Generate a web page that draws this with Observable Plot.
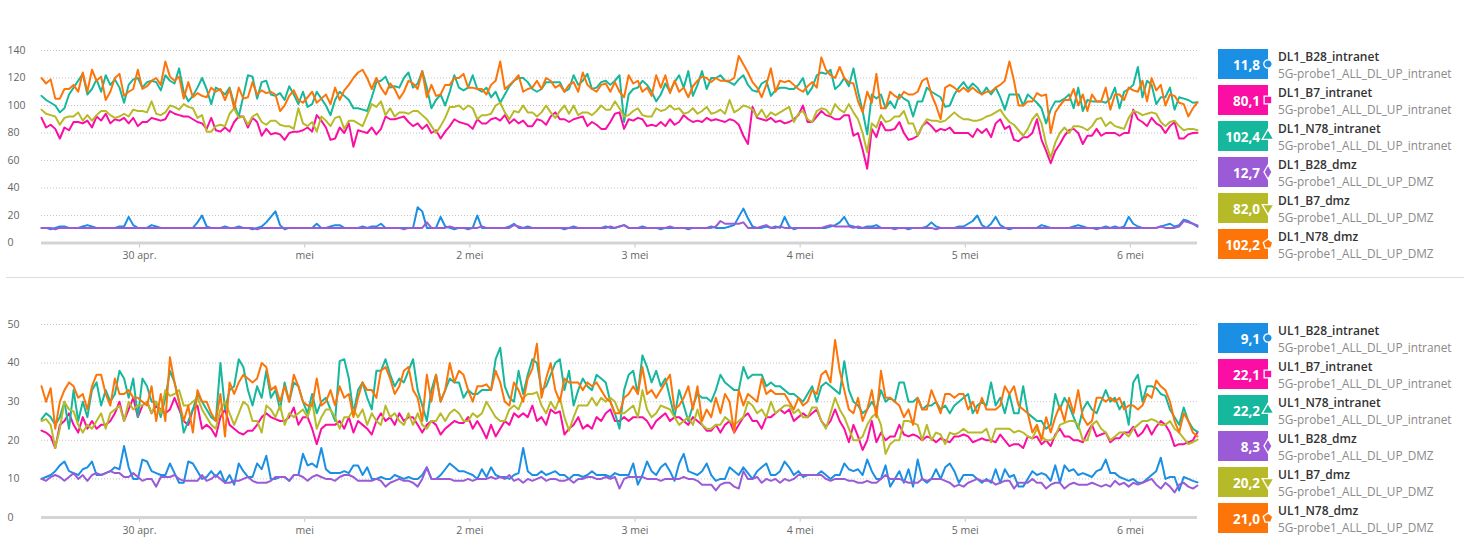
<!DOCTYPE html>
<html>
<head>
<meta charset="utf-8">
<script src="https://cdn.jsdelivr.net/npm/d3@7"></script>
<script src="https://cdn.jsdelivr.net/npm/@observablehq/plot@0.6"></script>
<style>
  html, body { margin: 0; padding: 0; background: #fff; }
  #page { position: relative; width: 1470px; height: 551px; overflow: hidden; font-family: "Open Sans", sans-serif; }
  .panel { position: absolute; left: 0; }
  #sep { position: absolute; left: 6px; top: 277px; width: 1458px; height: 1px; background: #dcdcdc; }
  #legend { position: absolute; left: 0; top: 0; pointer-events: none; }
</style>
</head>
<body>
<div id="page">
  <div id="dl" class="panel" style="top:0px"></div>
  <div id="sep"></div>
  <div id="ul" class="panel" style="top:274px"></div>
  <svg id="legend" width="1470" height="551"></svg>
</div>
<script>
// Samples every 40 minutes, 29 apr 09:45 .. 6 mei 09:45 (253 points per series)
const startTime = Date.UTC(2024, 3, 29, 9, 45);
const stepMs = 40 * 60 * 1000;
const stepCount = 252;

// Day ticks and their Dutch labels
const dayTicks = [30, 31, 32, 33, 34, 35, 36].map(d => new Date(Date.UTC(2024, 3, d)));
const dayLabels = ["30 apr.", "mei", "2 mei", "3 mei", "4 mei", "5 mei", "6 mei"];

// Y ticks for both panels
const dlTicks = [0, 20, 40, 60, 80, 100, 120, 140];
const ulTicks = [0, 10, 20, 30, 40, 50];

// Series names, groups and colours (same order in both panels)
const dlNames = ["DL1_B28_intranet", "DL1_B7_intranet", "DL1_N78_intranet", "DL1_B28_dmz", "DL1_B7_dmz", "DL1_N78_dmz"];
const ulNames = ["UL1_B28_intranet", "UL1_B7_intranet", "UL1_N78_intranet", "UL1_B28_dmz", "UL1_B7_dmz", "UL1_N78_dmz"];
const groupNames = ["5G-probe1_ALL_DL_UP_intranet", "5G-probe1_ALL_DL_UP_intranet", "5G-probe1_ALL_DL_UP_intranet",
                    "5G-probe1_ALL_DL_UP_DMZ", "5G-probe1_ALL_DL_UP_DMZ", "5G-probe1_ALL_DL_UP_DMZ"];
const seriesColors = ["#1a8fe3", "#fb0ea3", "#15b89c", "#9b5bd6", "#b7ba28", "#fd7509"];

// ---- Downlink (Mbit/s) ----
const dlB28Intranet = [
11,11,10,11,12,12,11,11,11,12,13,12,11,11,11,11,11,12,12,19,13,11,11,11,13,12,11,11,11,11,11,11,11,11,15,20,12,11,11,11,12,11,11,12,11,11,10,11,12,15,19,23,13,10,11,11,11,11,11,11,14,11,11,12,13,13,11,11,11,11,12,11,12,12,14,11,11,11,11,11,11,
11,26,23,11,11,11,19,12,11,10,11,11,10,11,20,11,11,11,11,11,11,12,14,11,11,12,11,11,11,11,11,11,11,10,11,12,11,11,11,11,11,11,12,11,11,12,13,11,11,11,12,11,11,11,10,11,11,11,11,11,10,11,11,11,11,12,11,11,11,12,13,19,25,18,12,11,11,12,11,12,11,19,12,10,11,11,11,
11,11,11,11,12,13,15,19,13,12,11,11,12,12,13,11,11,11,11,11,11,10,11,11,11,12,15,12,11,11,11,11,12,12,14,16,20,13,11,14,19,13,11,10,11,11,11,11,11,11,13,12,11,11,11,11,11,12,13,12,11,11,11,11,12,11,12,11,12,19,14,12,11,11,11,11,12,13,14,12,13,17,16,14,11.8];
const dlB7Intranet = [
91,84,86,83,76,84,82,88,88,87,89,84,92,89,94,87,90,89,91,87,91,85,88,88,91,90,89,90,96,94,93,92,92,90,88,87,83,91,82,81,84,81,88,92,92,84,91,88,78,83,79,80,79,75,80,81,81,82,84,81,93,89,84,75,76,84,80,87,70,82,81,80,84,79,83,92,90,90,91,92,88,
85,87,83,86,80,82,76,81,85,90,88,87,86,83,90,87,87,90,91,89,93,87,90,87,89,85,85,90,89,86,92,95,90,90,88,90,91,92,85,88,86,83,83,88,94,95,83,90,89,91,90,85,86,85,88,85,90,86,88,93,90,88,89,88,91,89,90,89,88,90,89,86,78,72,99,91,90,89,91,88,89,87,88,90,93,100,88,
88,92,96,93,92,90,90,93,93,78,80,68,54,83,77,88,82,82,83,88,80,75,76,78,85,88,85,81,83,82,84,80,80,80,80,77,83,80,83,77,87,90,83,85,75,74,77,77,80,90,75,67,58,67,72,78,82,83,80,72,78,78,83,78,80,80,80,78,80,80,97,90,88,85,91,87,85,80,85,88,76,76,79,80,80.1];
const dlN78Intranet = [
107,104,102,100,95,98,108,113,118,123,108,112,119,110,122,115,119,113,102,115,119,120,113,117,118,117,111,122,118,116,127,110,103,107,113,120,112,101,113,111,108,113,101,92,107,122,121,105,117,118,108,107,109,104,114,108,101,110,99,101,110,105,100,93,104,110,107,104,98,98,97,96,106,117,118,121,113,114,113,120,124,
113,116,125,113,98,104,108,100,110,122,113,111,113,122,112,110,113,106,110,102,108,114,118,120,120,117,112,110,112,117,117,117,117,110,112,122,115,118,123,112,113,117,118,115,118,122,88,108,112,113,118,115,110,103,108,116,110,117,122,113,125,107,115,125,112,120,120,122,118,117,115,119,122,115,111,110,116,118,107,111,113,113,112,112,115,120,108,
113,122,124,123,126,112,115,120,114,127,110,96,79,108,105,108,98,103,98,108,105,103,92,103,103,113,110,108,106,99,100,108,113,117,112,116,113,108,113,108,113,106,97,108,108,108,100,108,105,102,98,87,97,103,103,105,108,98,113,96,104,103,103,103,102,105,113,98,110,112,115,128,106,118,115,101,106,106,113,97,106,105,104,102,102.4];
const dlB28Dmz = [
11,11,11,10,11,11,11,11,11,11,11,11,11,11,11,11,11,11,11,11,11,11,11,11,11,11,11,11,11,11,11,11,11,11,11,11,11,11,11,11,11,11,11,11,11,11,11,10,11,11,11,11,11,11,11,11,11,11,11,11,11,11,11,11,11,11,11,11,11,11,11,11,11,11,11,11,11,11,11,10,11,
11,11,11,15,11,11,11,11,12,11,11,11,11,11,11,12,11,11,11,11,11,11,13,12,11,11,11,11,11,11,11,11,11,11,11,11,11,11,11,11,11,11,11,12,11,12,13,11,11,11,11,11,11,11,11,11,12,11,11,11,11,11,11,11,11,11,12,16,14,14,14,14,15,11,11,11,12,13,11,11,12,11,11,11,11,11,11,
11,11,11,12,13,12,12,12,12,11,12,11,11,11,11,11,11,11,10,11,11,11,11,11,11,11,11,10,11,11,11,11,11,11,11,11,11,11,11,11,11,11,11,11,11,11,11,11,11,11,11,11,11,11,11,11,11,11,11,11,11,11,10,11,11,11,11,11,11,11,11,11,11,11,11,11,12,11,11,11,12,16,15,14,12.7];
const dlB7Dmz = [
97,94,93,92,86,91,92,92,95,89,93,89,93,96,96,93,91,92,94,92,97,96,96,95,103,94,93,95,100,99,97,101,99,98,91,93,81,81,85,86,85,94,98,91,92,86,92,94,88,86,89,89,86,85,85,83,98,87,85,88,81,92,89,85,91,92,83,89,89,87,85,93,101,99,103,93,98,92,95,95,94,
96,96,93,90,85,80,85,91,99,99,100,97,100,98,90,93,93,94,100,102,95,90,96,95,100,95,95,92,95,100,95,91,96,100,94,100,93,95,95,93,96,100,97,97,103,98,92,93,96,98,93,92,92,98,96,97,100,97,98,94,95,98,94,96,99,94,95,97,94,104,95,97,100,99,97,92,97,91,95,93,95,97,99,88,94,96,90,
88,96,98,97,93,101,97,95,101,95,90,80,66,87,84,93,88,89,92,92,96,87,87,78,85,90,89,89,88,89,92,95,92,90,90,89,89,90,92,93,95,97,92,88,86,82,78,83,90,94,87,72,62,73,80,84,80,85,85,84,82,85,90,91,85,88,85,84,83,91,96,95,93,94,95,94,88,85,88,89,85,82,83,83,82.0];
const dlN78Dmz = [
120,116,119,105,105,112,112,115,110,124,110,126,118,121,104,110,120,123,107,110,112,126,112,114,118,120,115,132,121,118,121,105,117,106,109,107,106,113,110,112,104,112,98,113,105,106,117,108,111,109,110,108,96,100,107,111,104,102,106,110,102,105,108,101,113,104,111,115,120,124,126,120,112,120,113,108,116,112,105,110,118,
116,112,125,106,115,107,108,115,115,120,120,123,113,113,112,112,108,115,118,132,112,115,118,122,110,112,113,118,112,120,118,113,115,110,115,117,110,124,115,112,110,115,116,110,117,110,106,122,116,118,110,113,107,122,113,122,109,118,110,113,106,114,118,121,120,117,120,118,118,118,120,136,130,124,117,113,106,115,127,110,118,117,118,115,112,110,114,
117,113,135,126,122,120,128,120,117,116,103,95,110,102,123,98,98,110,107,105,110,108,108,110,118,120,108,100,90,113,115,113,110,113,110,113,110,108,110,110,113,115,118,132,118,100,100,103,103,109,107,108,80,95,100,104,104,112,100,108,96,108,103,103,113,97,108,108,104,113,111,110,118,103,120,111,115,100,108,107,102,101,92,98,102.2];

// ---- Uplink (Mbit/s) ----
const ulB28Intranet = [
10,10.5,11,12,13.5,14.5,12,11.5,11,12.5,13,14.5,11,11,11.5,12,13,12.5,18.5,13,10,10,15,14.5,12,11.5,11,11,14,11.5,9,9,14.5,14,12,10,10.5,12,10.5,12,9,11,8.5,14,12,10.5,10.5,14,12.5,16,10,10,10.5,10.5,9.5,11,11,16.5,13.5,14,13,18,12.5,11.5,11.5,11.5,12,11.5,13.5,13.5,11,13,10,10,10.5,10,10,11,10.5,10,10.5,
10,10,11,13,10,10,11,12.5,14,13,12,12,11.5,11,10,12.5,10.5,13,11,10.5,10.5,10,11,11.5,18,12,11,11,12,11,11.5,12,11,11,10,11,11,10.5,11,12,11,11,11,10.5,11.5,11,11,11,14,8.5,11,14.5,12,11,13,14,12,9.5,14,16.5,12,11.5,11,12,14,11,9.5,10,10,13,12,11,13,11.5,10,12,13,14,11,11,12,14.5,13,11,12,10.5,11,
11,11,12,11,10,11,11,14,12.5,12,12.5,11,15,12,10,10,13.5,8,10,12,9,12.5,8,15,10,9,10,12.5,10,13,14,12,9,11,11,11,10,9,10,9,12.5,9,12.5,10.5,11,8,8,10,12,11,11.5,11,9.5,13.5,9,13.5,12,12.5,11,11.5,11,10.5,12,12.5,15,11.5,11.5,10.5,10,9.5,10,9,9,10,11,12,15.5,10,10.5,10.5,7,10.5,10,9.5,9.1];
const ulB7Intranet = [
22.5,22,21,18,24,25,27,24,22,26,23,25,23,24,24,25,27,30,25,28,31,26,29,30,27,29,28,27,28,31,28,25,24,28,29,23,24,23,21,26,28,24,23,22,21.5,22.5,22.5,24,26,27,26,25.5,25,25,26,28.5,24,26,26,23,19,23,24,24,24,25,23,26,22,25,24,23,21.5,25,27,25,26,24,27,25,26,
26,24,22,24,25,24,21.5,23,24,25,24.5,24.5,26,23,25,23,20.5,24,21,23,25,24,27,26,27,26,29,25,26,24,28,27,27.5,21.5,23,24,26,23,24,23,26,25,27,28,25,25,26,25,26,26,26,25,23,25,26,27,25,26,26,25,24,26,25,24,22.5,22.5,24,22,24,25,22,24,26,27,25,25,23,26,26,27,28,27,28,25,26,27,26,
27,28,25,23.5,25,28,25,23,19.5,24,21,17.5,20,25,19.5,22,20,21,21,24,21.5,21,21.5,21,20,21,20.5,19.5,20.5,20,19.5,21,21,21.5,21,19.5,20,20.5,20,20,19.5,21.5,20,18.5,19,19,18,21,20.5,21,19,20,18.5,21.5,23,21,21,20,20,19.5,22,24,21,21.5,22,19.5,20.5,20.5,22,22,23.5,21,22,24,21.5,23.5,25,24,22,18.5,19,19,19.5,20,22.1];
const ulN78Intranet = [
25.5,27,26,24,26,30,23,33,25,30,26,33,35,29,33,30,32,38,36,31,36,26,36,34,30,30,26,31,38,35,30,22,25,28,32,30,28,26,25,40,28,33,34,41,39,33,29,34,31,38,31,33,28,35,30,35,34,30,27,32,27,30,31,28,25,40.5,41,36,27,33,35,31,28,38,38,41,37,34,36,35,38,
41,33,29,25,33,37,30,33,36,35,35,31,33,32,32,33,33,33,41,44,34,31,30,38,32,37,41,40,33,34,37,40,41,33,38,29,33,36,34,33,37,36,35,30,27,23,33,37,38,32,42,39,35,38,34,36,31,26,33,29,25,29,32,31,31,30,33,37,35,34,33,33,39,36,37,37,37,34,35,34,34,33,32,32,31,30,32,
34,30,34,35,34,33,32,40.5,33,30,29,27,28,30,28,33,30,31,30,35,35,30,30,31,28,29,29,30,28,29,27,29,30,31,32,27,29,30,29,35,29,31,27,32,27,27,34,27,26,25,25,23,24,32,28,31,29,26,23,28,30,28,27,30,33,30,31,28,30,24,35,37,30,34,34,33.5,32,31.5,28,26,24,28.5,25,23,22.2];
const ulB28Dmz = [
10,9.5,10.5,11,10.5,9.5,10.5,11.5,10,11,9.5,11,11.5,11,11.5,12,11.5,11.5,10.5,10.5,11.5,10.5,9.5,10,10,8,10.5,10.5,10.5,11,10,9.5,9.5,9.5,9.5,11,9.5,10,11,10,9,9,9.5,9.5,10,10.5,9.5,9,9,9,9.5,10.5,10.5,10.5,9.5,11,11,10.5,9.5,10.5,11,10.5,10,10,9.5,10.5,11,11,10.5,9.5,9.5,9.5,9.5,10,9.5,8,9,9.5,10,9.5,9.5,
9,8,10,13,10,10,10,10,10,9.5,9.5,9.5,10,9.5,10,10,10,10.5,10,10.5,10,11,9.5,10,9,10,9.5,10,10.5,9.5,10,10,9.5,9.5,10,9,10,10,10.5,10.5,10,10,10.5,10,10.5,7.5,10,10.5,10.5,10.5,10.5,10,10,10,9.5,10,10,10,10,10.5,10,10,9.5,8.5,8.5,8.5,7,8.5,9,9,8,7.5,12,10,10,10.5,9,10,9.5,10,9,10,9.5,10,11,11,11,
11,11,11,10,9.5,10,10,10,9.5,9.5,9,9,9.5,9,9,10,11,10,10,10,9.5,9,9,9,10,9.5,10,10,10,9.5,9,8,8.5,8,9,9.5,10,9.5,9.5,9.5,8.5,9,9.5,9.5,7.5,9,9,9,10,9,9,7.5,8.5,9,9,7.5,8.5,9,8.5,8.5,8.5,9,8.5,8,8.5,8,9.5,8.5,9,8,9,8.5,9,9.5,10,8.5,7.5,9,8,6.5,8.5,9,8,7.5,8.3];
const ulB7Dmz = [
25,25.5,24,18,23,30,28,27.5,24,22,24,23,25,27,23,27,28,29,25,30,28,29,29,30,27,30,27,33,31.5,32,33,29,29,30,31,28,26,24,23,28,30,27,24,27,30,29,25,25,22,29,28,26,29,24,27,26,27,28,26,30,23,26,28,28,26,23,26,26,28,26,28,24,27,25,24,29,26,27,25,24,27,
24,27,24,23,25,25,27,25,27,28,27,25,25,27,26,27,30,28,26,25,25,28,29,28,31,32,32,32.5,29,27,30,28,31,26,22.5,26,29,29,29,31,29,31,30,31,30,27,27,28,29,26,33,28,26,27,29,28.5,28,26,24,25,26,24,28,24,23,23,24,24,26,25,24,25,26,30,29,27,28,26,30,27,28,29,29,27,28,26,26,
28.5,28.5,25,23,27,31,28,26,23,20,20,21,24,26,27,24,16.5,19,20,20,25,25,24.5,24,20,24,20,22,21.5,19,22,21.5,22,23,22,22,22,22,23,19.5,23,23,23,23,22,22.5,22,21,20.5,23,21,20,20,21,24,24.5,25,25,24,20,20,24,25,23,22,20,21,22,22,21,23,24,25,25,25.5,25,24,24,25,23,22,20.5,19,19.5,20.2];
const ulN78Dmz = [
34,30,33.5,23,30,33,35,34,31,32,28,34,37,37,32,29,36,32,32,33,31,31,30,29,34,25,32,25,41.5,35,30,25,29,22,33,30,30,27,25,32,21,35,32,35,37,36,35,36,40,39,33,34,30,34,30,37,34,30,29,29,36,29,30,33,29,34,31,32,26,31,35,33,33,31,38,39,36,32,34,38,39,
33,31,25,37,30,37,30,33,40,35,38,37,33,30,34,34,34.5,33,38,35,30,29,35,33,30,36,38.5,45,31,36,40,33,30,36,35,35,35,33,35,34,35,33,31,30,27,27,31,32,34,32,39,32,33,31,33,35,37,28,29,31,34,28,34,25,28,26,31,27,32,30,22,33,29,32,31,30,36,32,33,32,32,32,30,28,31,29,30,
33,32,37,38,35,46,38,33,28,27,31,25,28,33,26,38,31,31,30,29,26,28,24,31,28,28,33,30,27,32,32,31,32,32,28,30,27,31,28,28,28,29,34,32,34,29,28,27,22,24,20,26,22,26,29,25,31,27,33,26,24,25,31,31,30,31,30,31,28,29,29,28,29,32,31,35.5,34,33,30,25,22,27,25,22,21.0];

const dlSeries = [dlB28Intranet, dlB7Intranet, dlN78Intranet, dlB28Dmz, dlB7Dmz, dlN78Dmz];
const ulSeries = [ulB28Intranet, ulB7Intranet, ulN78Intranet, ulB28Dmz, ulB7Dmz, ulN78Dmz];

const fontStack = '"Open Sans", "DejaVu Sans", sans-serif';
const dayLabel = d => dayLabels[dayTicks.findIndex(t => +t === +d)];

function longRows(names, series) {
  return names.flatMap((name, k) =>
    series[k].map((value, i) => ({name, time: new Date(startTime + i * stepMs), value})));
}

function panel(names, series, yTicks, height, marginBottom) {
  return Plot.plot({
    width: 1205,
    height,
    marginLeft: 41,
    marginRight: 8,
    marginTop: 50,
    marginBottom,
    style: {fontFamily: fontStack, fontSize: "10.5px", color: "#666", background: "transparent", overflow: "visible"},
    x: {type: "utc", domain: [new Date(startTime), new Date(startTime + stepCount * stepMs)]},
    y: {domain: [0, d3.max(yTicks)]},
    color: {domain: names, range: seriesColors},
    marks: [
      Plot.gridY(yTicks.filter(d => d > 0), {stroke: "#c4c4c4", strokeOpacity: 1, strokeDasharray: "1,2"}),
      Plot.axisY(yTicks, {tickSize: 0, tickPadding: 0, textAnchor: "start", dx: -34, fill: "#666", label: null}),
      Plot.axisX(dayTicks, {tickSize: 5, tickPadding: 4, stroke: "#c8c8c8", fill: "#666", tickFormat: dayLabel, label: null}),
      Plot.ruleY([0], {stroke: "#d4d4d4", strokeWidth: 3}),
      Plot.line(longRows(names, series), {
        x: "time", y: "value", z: "name", stroke: "name",
        strokeWidth: 2, strokeLinejoin: "round", strokeLinecap: "round"
      })
    ]
  });
}

document.getElementById("dl").append(panel(dlNames, dlSeries, dlTicks, 270, 27.5));
document.getElementById("ul").append(panel(ulNames, ulSeries, ulTicks, 277, 34));

// Legend boxes with the latest value of each series
const formatValue = v => d3.format(".1f")(v).replace(".", ",");
const pentagon = {
  draw(ctx, size) {
    const r = Math.sqrt(size / 2.38);
    for (let j = 0; j < 5; j++) {
      const a = -Math.PI / 2 + j * 2 * Math.PI / 5;
      const px = r * Math.cos(a), py = r * Math.sin(a);
      if (j === 0) ctx.moveTo(px, py); else ctx.lineTo(px, py);
    }
    ctx.closePath();
  }
};
const legendSymbols = [
  {type: d3.symbolCircle, size: 56, rotate: 0},
  {type: d3.symbolSquare, size: 60, rotate: 0},
  {type: d3.symbolTriangle, size: 58, rotate: 0},
  {type: d3.symbolDiamond, size: 56, rotate: 0},
  {type: d3.symbolTriangle, size: 58, rotate: 180},
  {type: pentagon, size: 60, rotate: 0}
];

const legend = d3.select("#legend").style("font-family", fontStack);
function drawLegend(names, series, top) {
  names.forEach((name, k) => {
    const values = series[k];
    const g = legend.append("g").attr("transform", `translate(1218,${top + k * 36})`);
    g.append("rect").attr("width", 50).attr("height", 30).attr("fill", seriesColors[k]);
    g.append("text")
      .attr("x", 42).attr("y", 20.5).attr("text-anchor", "end")
      .attr("fill", "#fff").attr("font-weight", 700).attr("font-size", "13.5px")
      .text(formatValue(values[values.length - 1]));
    const s = legendSymbols[k];
    g.append("path")
      .attr("transform", `translate(50,15) rotate(${s.rotate})`)
      .attr("d", d3.symbol(s.type, s.size)())
      .attr("fill", seriesColors[k]).attr("stroke", "#fff").attr("stroke-width", 1.3);
    g.append("text")
      .attr("x", 60).attr("y", 12)
      .attr("fill", "#333").attr("font-weight", 600).attr("font-size", "12px")
      .text(name);
    g.append("text")
      .attr("x", 60).attr("y", 28.5)
      .attr("fill", "#8a8a8a").attr("font-size", "11.8px")
      .text(groupNames[k]);
  });
}
drawLegend(dlNames, dlSeries, 49);
drawLegend(ulNames, ulSeries, 323);
</script>
</body>
</html>
